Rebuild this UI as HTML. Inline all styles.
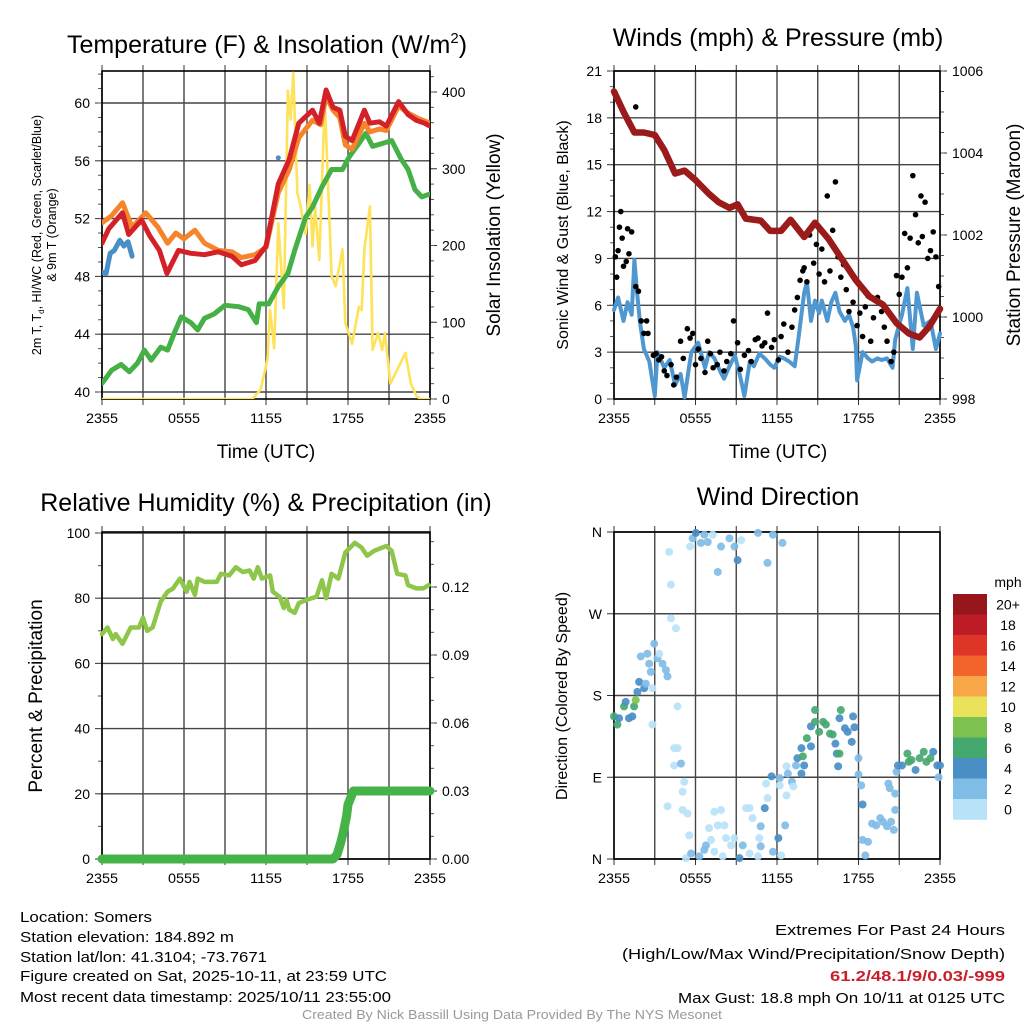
<!DOCTYPE html>
<html><head><meta charset="utf-8"><style>
html,body{margin:0;padding:0;background:#fff;}
svg{display:block;font-family:"Liberation Sans",sans-serif;}
</style></head><body>
<svg id="fig" width="1024" height="1024" viewBox="0 0 1024 1024" xmlns="http://www.w3.org/2000/svg">
<rect width="1024" height="1024" fill="#fff"/>
<g id="layer"></g>
<text x="267" y="53" font-size="25" text-anchor="middle">Temperature (F) &amp; Insolation (W/m<tspan font-size="15" dy="-10">2</tspan><tspan dy="10">)</tspan></text>
<text x="778" y="46" font-size="25" text-anchor="middle">Winds (mph) &amp; Pressure (mb)</text>
<text x="266" y="511" font-size="25" text-anchor="middle">Relative Humidity (%) &amp; Precipitation (in)</text>
<text x="778" y="505" font-size="25" text-anchor="middle">Wind Direction</text>
<text transform="translate(41,235) rotate(-90)" font-size="12.5" text-anchor="middle">2m T, T<tspan font-size="8" dy="3">d</tspan><tspan dy="-3">, HI/WC (Red, Green, Scarlet/Blue)</tspan></text>
<text transform="translate(56,235) rotate(-90)" font-size="12.5" text-anchor="middle">&amp; 9m T (Orange)</text>
<text transform="translate(500,235) rotate(-90)" font-size="19" text-anchor="middle">Solar Insolation (Yellow)</text>
<text transform="translate(568,235) rotate(-90)" font-size="16" text-anchor="middle">Sonic Wind &amp; Gust (Blue, Black)</text>
<text transform="translate(1020,235) rotate(-90)" font-size="19" text-anchor="middle">Station Pressure (Maroon)</text>
<text transform="translate(42,696) rotate(-90)" font-size="19" text-anchor="middle">Percent &amp; Precipitation</text>
<text transform="translate(567,696) rotate(-90)" font-size="16" text-anchor="middle">Direction (Colored By Speed)</text>
<text x="266" y="458" font-size="19" text-anchor="middle">Time (UTC)</text>
<text x="778" y="458" font-size="19" text-anchor="middle">Time (UTC)</text>
<g font-size="15">
<text x="20" y="922" textLength="132" lengthAdjust="spacingAndGlyphs">Location: Somers</text>
<text x="20" y="942" textLength="214" lengthAdjust="spacingAndGlyphs">Station elevation: 184.892 m</text>
<text x="20" y="962" textLength="247" lengthAdjust="spacingAndGlyphs">Station lat/lon: 41.3104; -73.7671</text>
<text x="20" y="981" textLength="367" lengthAdjust="spacingAndGlyphs">Figure created on Sat, 2025-10-11, at 23:59 UTC</text>
<text x="20" y="1002" textLength="371" lengthAdjust="spacingAndGlyphs">Most recent data timestamp: 2025/10/11 23:55:00</text>
</g>
<g font-size="15">
<text x="775" y="935" textLength="230" lengthAdjust="spacingAndGlyphs">Extremes For Past 24 Hours</text>
<text x="622" y="959" textLength="383" lengthAdjust="spacingAndGlyphs">(High/Low/Max Wind/Precipitation/Snow Depth)</text>
<text x="830" y="981" textLength="175" lengthAdjust="spacingAndGlyphs" fill="#c8202a" font-weight="bold">61.2/48.1/9/0.03/-999</text>
<text x="678" y="1003" textLength="327" lengthAdjust="spacingAndGlyphs">Max Gust: 18.8 mph On 10/11 at 0125 UTC</text>
</g>
<text x="302" y="1019" font-size="12.5" fill="#999" textLength="420" lengthAdjust="spacingAndGlyphs">Created By Nick Bassill Using Data Provided By The NYS Mesonet</text>
</svg>
<script>
// ---------- data ----------
const xTickLabels = ["2355","0555","1155","1755","2355"];
const redT = [0,0.5,1.5,1.95,2.9,3.5,4.2,4.75,5.6,6.5,7.5,8.5,9.5,10.2,11.2,12,12.9,13.7,14.4,15.4,15.9,16.4,16.9,17.4,17.8,18.3,19.2,19.6,20.3,20.8,21.7,22.4,23,23.6,24];
const redV = [50.3,51.3,52.4,50.9,51.9,50.8,49.8,48.2,49.8,49.6,49.5,49.7,49.4,48.8,49.1,50.1,54.4,56.1,58.6,59.5,58.6,60.9,59.7,59.5,57.7,57.4,59.5,58.6,58.7,58.4,60.1,59.2,58.8,58.6,58.4];
const orangeT = [0,0.7,1.5,2.2,3.2,4.1,4.8,5.4,6,6.8,7.5,8.5,9.5,10.2,11.2,12,12.9,13.7,14.4,15.4,16,16.4,16.9,17.4,17.8,18.3,19.2,19.6,20.3,20.8,21.7,22.4,23,24];
const orangeV = [51.7,52.2,53.1,51.4,52.4,51.4,50.3,51.0,50.6,51.2,50.3,49.8,49.7,49.3,49.5,50.0,53.8,55.4,57.6,58.8,58.5,60.5,59.5,59.0,57.1,56.8,58.6,58.0,58.2,58.1,59.8,59.3,59.0,58.6];
const blueT = [0,0.3,0.6,0.9,1.3,1.6,1.9,2.2];
const blueV = [48.3,48.2,49.6,49.8,50.5,50.1,50.4,49.4];
const blueDotT = [12.9];
const blueDotV = [56.2];
const greenT = [0,0.7,1.4,2,2.6,3.1,3.6,4.3,4.8,5.3,5.8,6.5,7,7.5,8.2,9,10,10.7,11.3,11.5,12.2,12.9,13.6,14.1,14.9,15.4,16.1,16.8,17.6,18.1,18.8,19.3,19.8,20.5,21.2,21.9,22.4,22.9,23.4,24];
const greenV = [40.6,41.5,41.9,41.4,42.0,42.9,42.2,43.1,42.9,44.1,45.2,44.8,44.3,45.1,45.4,46.0,45.9,45.7,44.8,46.1,46.1,47.3,48.2,49.8,52.1,52.8,54.2,55.4,55.4,56.3,57.2,57.9,57.0,57.2,57.4,56.1,55.4,54.0,53.5,53.7];
const solarT = [0,11.0,11.6,12.1,12.3,12.6,12.9,13.3,13.6,13.8,14.0,14.3,14.5,14.7,14.9,15.2,15.4,15.6,15.9,16.3,16.8,17.1,17.6,17.8,18.3,18.8,19.0,19.2,19.6,19.8,20.2,20.5,20.7,21.1,21.6,22.2,22.6,23.0,23.3,24];
const solarV = [0,0,12,51,116,66,229,118,402,364,425,268,254,233,215,279,199,251,181,389,160,147,195,99,72,120,116,195,251,64,86,64,86,20,38,60,20,4,0,0];
const windT = [0,0.3,0.7,1.0,1.3,1.5,1.7,1.9,2.2,2.6,3.0,3.2,3.7,4.1,4.5,4.9,5.2,5.5,5.7,6.2,6.7,7.0,7.4,7.8,8.1,8.5,8.9,9.3,9.6,10.0,10.3,10.7,11.1,11.5,11.8,12.2,12.5,12.9,13.3,13.6,14.0,14.2,14.5,14.8,15.1,15.3,15.7,16.0,16.3,16.6,17.0,17.3,17.6,17.8,17.9,18.3,18.7,19.0,19.4,19.7,20.1,20.5,20.7,21.0,21.2,21.6,22.0,22.3,22.8,23.3,23.7,24];
const windV = [5.7,6.5,5.0,6.2,5.4,8.9,6.8,5.0,3.2,2.4,0.2,3.0,2.0,2.5,0.9,1.6,0.1,1.9,3.0,3.6,2.0,3.0,2.6,1.8,1.3,2.1,2.8,1.4,0.2,2.4,2.1,2.9,2.6,2.2,2.0,2.7,2.6,2.4,2.1,4.0,6.8,7.5,5.0,6.3,5.5,6.3,5.0,6.2,6.8,5.6,5.0,5.4,4.6,3.4,1.2,3.0,2.6,2.4,2.6,2.5,2.6,2.0,3.8,4.8,5.4,7.1,3.2,6.8,4.7,5.0,3.2,4.2];
const gustT = [0.1,0.2,0.3,0.4,0.5,0.6,0.7,0.9,1.0,1.1,1.3,1.6,1.6,1.8,2.0,2.2,2.4,2.5,2.9,3.1,3.3,3.5,3.7,3.9,4.2,4.4,4.6,4.9,5.1,5.4,5.6,5.8,6.0,6.2,6.4,6.7,6.9,7.1,7.3,7.6,7.8,8.1,8.3,8.6,8.8,9.1,9.3,9.6,9.9,10.1,10.4,10.6,10.9,11.1,11.3,11.6,11.8,12.1,12.3,12.5,12.8,13.1,13.3,13.5,13.7,13.9,14.0,14.2,14.4,14.7,14.9,15.1,15.3,15.5,15.7,15.9,16.1,16.3,16.5,16.7,16.9,17.1,17.3,17.6,17.9,18.1,18.3,18.5,18.7,18.9,19.1,19.4,19.7,19.9,20.1,20.4,20.6,20.8,21.0,21.2,21.4,21.6,21.8,22.0,22.2,22.4,22.6,22.7,22.9,23.1,23.3,23.5,23.7,23.9];
const gustV = [9.1,7.8,9.5,11,12,10.3,8.5,8.8,10.9,9.3,10.7,18.7,7.2,6.9,5.0,4.2,5.0,4.2,2.8,2.9,2.5,2.7,1.8,1.5,2.2,0.9,1.4,3.7,2.6,4.5,3.9,4.2,2.2,3.2,2.6,1.7,3.7,2.9,2.0,2.2,3.0,1.8,2.4,2.9,5.0,3.6,1.9,2.8,3.1,2.4,3.8,3.9,3.4,3.6,5.5,3.3,3.8,2.5,4.0,4.8,3.0,4.6,5.7,6.5,7.6,8.2,8.4,7.5,10.5,8.7,9.9,8.0,9.6,7.5,13.0,8.2,10.8,13.9,9.1,7.8,8.6,7.0,5.6,6.2,4.7,5.5,4.0,5.9,6.6,3.7,5.2,6.5,5.6,4.6,3.7,2.4,3.0,7.9,6.7,7.8,10.6,8.4,10.3,14.3,11.8,10.0,13.0,10.4,12.6,9.0,9.5,10.7,9.1,7.2];
const presT = [0,0.75,1.5,2.2,3,3.7,4.5,5.2,6,7,7.7,8.5,9.1,9.7,10.8,11.5,12.3,13,14,14.8,15.8,16.8,17.8,18.8,19.8,20.8,21.7,22.5,23.2,24];
const presV = [1005.5,1004.97,1004.5,1004.5,1004.44,1004.07,1003.5,1003.57,1003.34,1003.0,1002.8,1002.66,1002.75,1002.4,1002.35,1002.1,1002.1,1002.37,1001.95,1002.3,1001.9,1001.4,1000.9,1000.5,1000.3,999.85,999.6,999.5,999.76,1000.2];
const rhT = [0,0.4,0.8,1.0,1.5,2.1,2.7,3.0,3.3,3.7,4.3,4.8,5.2,5.7,6.2,6.4,6.8,7.0,7.5,8.4,8.7,9.3,9.8,10.3,10.8,11.1,11.4,11.7,12.3,12.5,13.0,13.3,13.5,13.7,14.1,14.4,15.0,15.7,16.1,16.4,16.8,17.3,17.8,18.5,19.0,19.4,19.9,20.8,21.2,21.6,22.2,22.4,23.0,23.5,23.9];
const rhV = [69,71,67.5,69,66,71,71,74,70,71,79,82,83,86,82,85,81,86,85,85,87.5,87,89.5,88,88.5,86,89.5,86,87,82,80.4,77,79.5,76.5,75.5,78.5,79.5,80.5,85.5,80,87.5,86,94,97,95.5,93,94.5,96,94.5,87.5,87,84,83,83,84];
const precipT = [0,16.9,17.2,17.5,17.7,17.9,18.0,18.2,18.4,24];
const precipV = [0,0,0.002,0.008,0.013,0.019,0.024,0.027,0.03,0.03];
const dirT = [0,0.25,0.37,0.74,0.86,1.1,1.35,1.48,1.6,1.72,1.85,2.22,2.34,1.97,2.46,2.59,2.71,2.96,3.2,3.33,3.57,3.82,3.94,2.83,2.83,4.06,4.19,4.19,4.56,4.68,4.43,4.68,4.43,4.93,5.17,5.05,3.94,5.05,5.42,5.54,5.3,5.67,6.28,6.65,6.77,7.14,7.0,7.39,7.39,7.64,7.88,8.13,8.0,8.25,8.62,8.87,9.24,9.48,9.73,9.98,10.2,9.98,10.6,10.7,10.8,10.8,11.1,11.3,11.2,11.7,12.1,12.3,12.6,11.6,12.2,12.2,12.7,12.8,13.1,13.2,12.7,13.4,13.5,13.8,14.0,13.9,13.8,14.2,14.5,14.5,14.8,14.8,15.1,15.4,15.6,15.9,16.1,16.3,16.4,16.6,16.5,16.6,16.7,17.0,17.2,17.5,17.6,17.7,18.0,18.0,18.2,18.3,18.3,18.5,18.7,19.0,19.3,19.6,19.8,20.1,20.2,20.3,20.4,20.6,20.7,20.7,20.8,20.9,21.2,21.6,21.7,21.9,22.2,22.5,22.8,23.0,23.3,23.5,23.8,24.0,23.9,5.79,6.03,6.4,6.65,6.9,7.27,7.64,7.88,8.5,8.87,9.1,9.36,10.6,11.3,11.7,12.4,5.6];
const dirV = [157,148,155,168,173,155,157,168,175,184,195,188,193,223,226,215,206,237,221,226,215,208,201,188,148,338,302,265,254,168,122,122,103,105,85,74,58,54,50,26,1,6,3,10,15,21,34,8,52,37,54,37,3,23,15,23,1,15,56,56,45,6,3,23,36,14,56,67,83,8,23,4,37,91,89,81,102,94,85,80,70,103,111,94,103,113,122,133,124,146,151,164,140,151,148,138,137,127,116,116,102,155,164,144,140,129,157,145,111,93,81,60,21,4,19,39,37,45,41,36,83,78,41,32,54,72,96,103,103,116,107,109,98,111,118,107,111,118,103,103,90,353,359,348,357,349,357,316,344,353,344,329,351,359,326,357,348,344];
const dirSpd = [7,7,5,7,5,5,5,7,9,5,5,5,3,3,3,3,3,3,3,1,3,3,3,1,1,1,1,1,1,1,1,1,1,3,1,1,1,1,1,1,1,3,3,3,3,1,1,1,1,1,1,1,1,1,1,1,5,3,1,1,1,1,1,1,3,3,5,1,1,3,5,1,3,5,3,1,1,3,3,1,1,3,5,5,5,7,5,7,5,5,7,7,7,7,7,7,7,5,5,7,5,5,7,5,5,5,5,5,3,3,3,5,3,3,3,3,3,3,3,3,3,3,3,3,3,3,3,5,5,7,7,7,5,7,7,7,7,5,5,5,3,3,5,3,3,3,1,3,3,3,3,5,1,3,3,3,3,1];
const cbLabels = ["20+","18","16","14","12","10","8","6","4","2","0"];
const cbColors = ["#97161c","#bd1c26","#df3428","#f2642c","#f8a748","#e9e25a","#7dc24e","#45a86f","#4a8ec6","#7fbce6","#b8e2f8"];

// ---------- helpers ----------
const NS="http://www.w3.org/2000/svg";
const layer=document.getElementById('layer');
function mk(tag,attrs,parent){const e=document.createElementNS(NS,tag);for(const k in attrs)e.setAttribute(k,attrs[k]);(parent||layer).appendChild(e);return e;}
function lin(d0,d1,r0,r1){return v=>r0+(v-d0)/(d1-d0)*(r1-r0);}
function pathD(ts,vs,xs,ys){return ts.map((t,i)=>(i?'L':'M')+xs(t).toFixed(1)+' '+ys(vs[i]).toFixed(1)).join(' ');}

const P1={x0:102,x1:430,y0:71,y1:399};
const P2={x0:614,x1:940,y0:71,y1:399};
const P3={x0:102,x1:430,y0:532,y1:859};
const P4={x0:614,x1:940,y0:532,y1:859};

function frame(P,name,leftTicks,leftScale,leftLabels,leftMinor,rightTicks,rightScale,rightLabels,rightMinor){
  const g=mk('g',{});
  
  
  const xs=lin(0,24,P.x0,P.x1);
  for(let h=0;h<=24;h+=3){
    const l=mk('line',{x1:xs(h),x2:xs(h),y1:P.y0,y2:P.y1,stroke:'#444','stroke-width':1.4},g);
    
    
    mk('line',{x1:xs(h),x2:xs(h),y1:P.y1,y2:P.y1+6,stroke:'#333','stroke-width':1},g);
    mk('line',{x1:xs(h),x2:xs(h),y1:P.y0,y2:P.y0-6,stroke:'#333','stroke-width':1},g);
  }
  xTickLabels.forEach((s,i)=>{
    const t=mk('text',{x:xs(i*6),y:P.y1+24,'font-size':14,'text-anchor':'middle',textLength:32,lengthAdjust:'spacingAndGlyphs'},g);
    t.textContent=s;
    
    
  });
  leftTicks.forEach((v,i)=>{
    const y=leftScale(v);
    const l=mk('line',{x1:P.x0,x2:P.x1,y1:y,y2:y,stroke:'#444','stroke-width':1.4},g);
    
    
    mk('line',{x1:P.x0-7,x2:P.x0,y1:y,y2:y,stroke:'#333','stroke-width':1},g);
    const t=mk('text',{x:P.x0-12,y:y+5,'font-size':14,'text-anchor':'end'},g);
    t.textContent=leftLabels[i];
    
    
  });
  leftMinor.forEach(v=>{const y=leftScale(v);mk('line',{x1:P.x0-4,x2:P.x0,y1:y,y2:y,stroke:'#555','stroke-width':1},g);});
  rightTicks.forEach((v,i)=>{
    const y=rightScale(v);
    mk('line',{x1:P.x1,x2:P.x1+7,y1:y,y2:y,stroke:'#333','stroke-width':1},g);
    const t=mk('text',{x:P.x1+12,y:y+5,'font-size':14},g);
    t.textContent=rightLabels[i];
    
    
  });
  rightMinor.forEach(v=>{const y=rightScale(v);mk('line',{x1:P.x1,x2:P.x1+4,y1:y,y2:y,stroke:'#555','stroke-width':1},g);});
  const b=mk('rect',{x:P.x0,y:P.y0,width:P.x1-P.x0,height:P.y1-P.y0,fill:'none',stroke:'#000','stroke-width':1.6},g);
  
  
  return xs;
}
function rng(a,b,s){const r=[];for(let v=a;v<=b+1e-9;v+=s)r.push(+v.toFixed(4));return r;}

// ---------- panel 1 ----------
const t1=lin(60,40,103,392), s1=lin(0,400,399,92);
const x1s=frame(P1,'temp',[40,44,48,52,56,60],t1,["40","44","48","52","56","60"],rng(40,62,1),[0,100,200,300,400],s1,["0","100","200","300","400"],rng(0,420,20));
const clip1=mk('clipPath',{id:'c1'});mk('rect',{x:P1.x0,y:P1.y0-4,width:P1.x1-P1.x0,height:P1.y1-P1.y0+4},clip1);
function series(ts,vs,xs,ys,color,w,name,clip){
  const p=mk('path',{d:pathD(ts,vs,xs,ys),fill:'none',stroke:color,'stroke-width':w,'stroke-linejoin':'round','stroke-linecap':'round','clip-path':clip?'url(#'+clip+')':''});
  
  
  return p;
}
series(solarT,solarV,x1s,s1,'#fde25a',2.6,'solar-line','c1');
series(greenT,greenV,x1s,t1,'#44b046',5,'dewpoint-line','c1');
series(orangeT,orangeV,x1s,t1,'#f5842b',5,'9m-temp-line','c1');
series(redT,redV,x1s,t1,'#d42027',5,'2m-temp-line','c1');
series(blueT,blueV,x1s,t1,'#4a8ec6',5,'windchill-line','c1');
blueDotT.forEach((t,i)=>{const c=mk('circle',{cx:x1s(t),cy:t1(blueDotV[i]),r:2.5,fill:'#4a8ec6'});});

// ---------- panel 2 ----------
const w2=lin(0,21,399,71), p2=lin(998,1006,399,71);
const x2s=frame(P2,'wind',[0,3,6,9,12,15,18,21],w2,["0","3","6","9","12","15","18","21"],rng(0,21,1),[998,1000,1002,1004,1006],p2,["998","1000","1002","1004","1006"],rng(998,1006,0.5));
series(windT,windV,x2s,w2,'#4f97d0',4,'sonic-wind-line');
gustT.forEach((t,i)=>{const c=mk('circle',{cx:x2s(t),cy:w2(gustV[i]),r:2.8,fill:'#000'});});
series(presT,presV,x2s,p2,'#9b1b1b',6.5,'pressure-line');

// ---------- panel 3 ----------
const r3=lin(0,100,859,533), q3=lin(0,0.03,859,791);
const x3s=frame(P3,'rh',[0,20,40,60,80,100],r3,["0","20","40","60","80","100"],rng(0,100,10),[0,0.03,0.06,0.09,0.12],q3,["0.00","0.03","0.06","0.09","0.12"],rng(0,0.14,0.01));
series(rhT,rhV,x3s,r3,'#8dc648',4.5,'rh-line');
series(precipT,precipV,x3s,q3,'#45b348',9,'precip-line');

// ---------- panel 4 ----------
const d4=lin(0,360,859,532);
const x4s=frame(P4,'dir',[0,90,180,270,360],d4,["N","E","S","W","N"],[],[],d4,[],[]);
dirT.forEach((t,i)=>{
  const bin=Math.min(10,Math.floor(dirSpd[i]/2));
  const c=mk('circle',{cx:x4s(Math.min(24,t)),cy:d4(dirV[i]),r:4,fill:cbColors[10-bin],'fill-opacity':0.92});
  
  
});
// colorbar
const cb=mk('g',{});


const cbTop=594, cbH=20.5;
cbColors.forEach((c,i)=>{
  const r=mk('rect',{x:953,y:cbTop+i*cbH,width:34,height:cbH+0.3,fill:c},cb);
  
  
  const t=mk('text',{x:1008,y:cbTop+i*cbH+cbH/2+5,'font-size':14,'text-anchor':'middle'},cb);
  t.textContent=cbLabels[i];
  
  
});
const mt=mk('text',{x:1008,y:587,'font-size':14,'text-anchor':'middle'},cb);
mt.textContent='mph';


</script>
</body></html>
